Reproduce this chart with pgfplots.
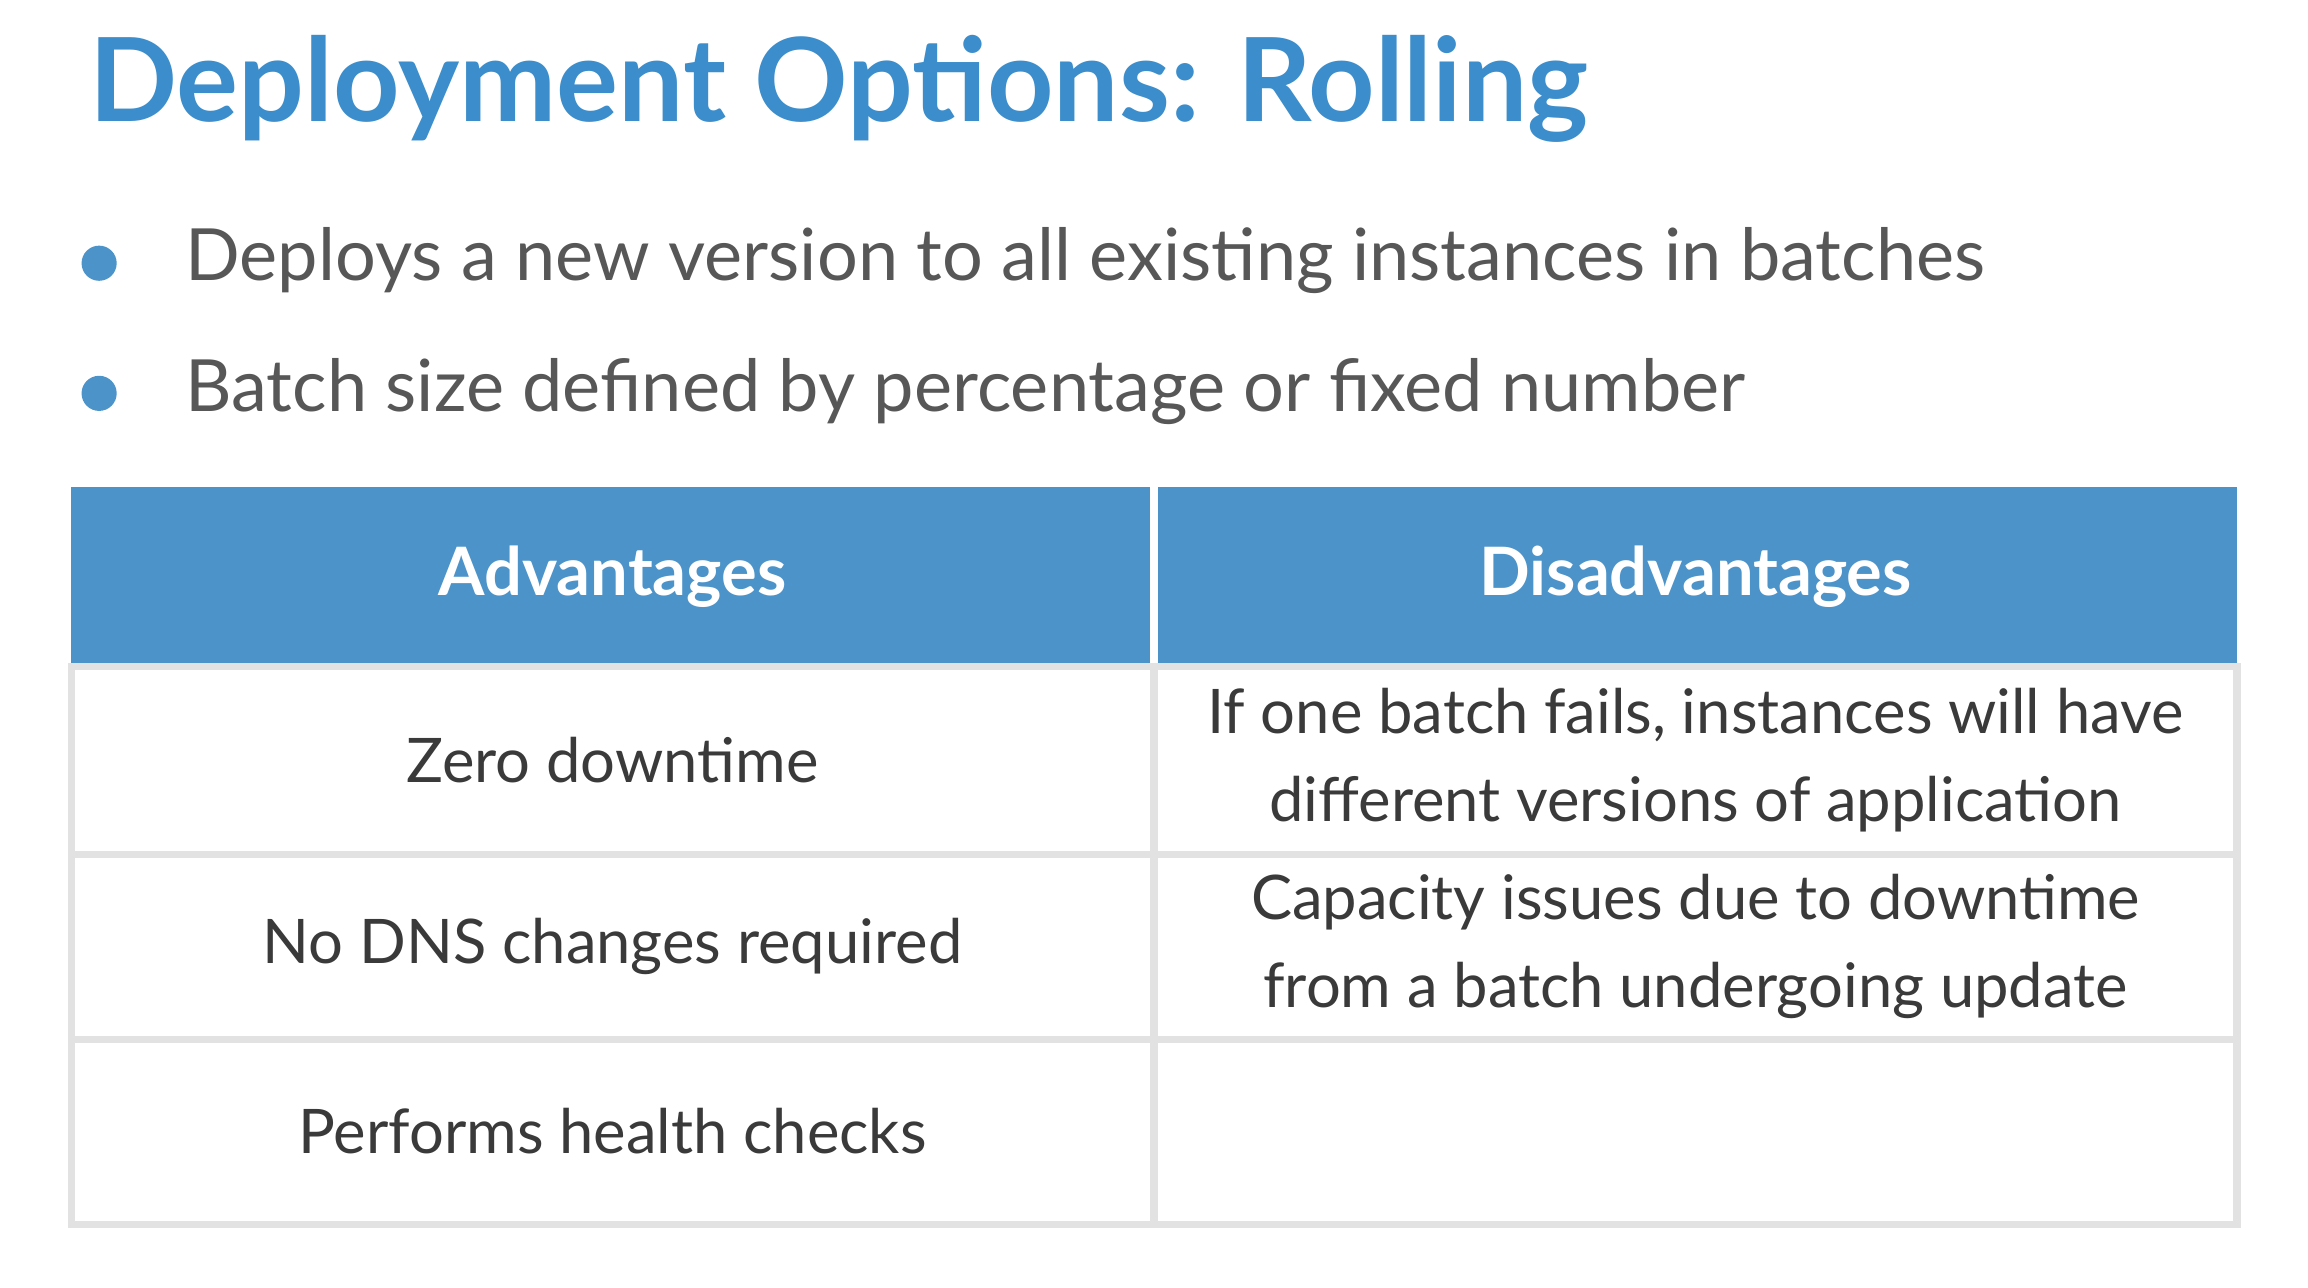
\documentclass[border=0pt]{standalone}
\usepackage{pgfplots}
\pgfplotsset{compat=1.18}
\usepackage{fontspec}
\setmainfont{Lato}
\definecolor{ttl}{HTML}{3B8DCB}
\definecolor{hdr}{HTML}{4B93C9}
\definecolor{txt}{HTML}{3A3A3A}
\definecolor{grd}{HTML}{E2E2E2}
\begin{document}
\begin{tikzpicture}
\begin{axis}[hide axis, scale only axis, width=23.08cm, height=12.88cm,
  xmin=0, xmax=1560, ymin=0, ymax=871, y dir=reverse, clip=false]
\fill[white] (axis cs:0,0) rectangle (axis cs:1560,871);
\node[anchor=base west, text=ttl, font=\fontsize{33}{38}\selectfont\bfseries] at (axis cs:52,82) {Deployment Options: Rolling};
\fill[hdr] (axis cs:67,178) circle[radius=5pt];
\fill[hdr] (axis cs:67,266) circle[radius=5pt];
\node[anchor=base west, text=txt!85, font=\fontsize{20.5}{24}\selectfont] at (axis cs:117,190) {Deploys a new version to all existing instances in batches};
\node[anchor=base west, text=txt!85, font=\fontsize{20.5}{24}\selectfont] at (axis cs:117,278) {Batch size defined by percentage or fixed number};
\fill[hdr] (axis cs:48,329) rectangle (axis cs:1512,451);
\draw[white, line width=2pt] (axis cs:780,329) -- (axis cs:780,451);
\draw[grd, line width=2pt] (axis cs:48,451) rectangle (axis cs:1512,828);
\draw[grd, line width=2pt] (axis cs:48,578) -- (axis cs:1512,578);
\draw[grd, line width=2pt] (axis cs:48,703) -- (axis cs:1512,703);
\draw[grd, line width=2pt] (axis cs:780,451) -- (axis cs:780,828);
\node[white, font=\fontsize{19}{23}\selectfont\bfseries] at (axis cs:414,390) {Advantages};
\node[white, font=\fontsize{19}{23}\selectfont\bfseries] at (axis cs:1146,390) {Disadvantages};
\tikzset{cell/.style={text=txt, font=\fontsize{17.5}{25}\selectfont, align=center}}
\node[cell] at (axis cs:414,514) {Zero downtime};
\node[cell] at (axis cs:414,640) {No DNS changes required};
\node[cell] at (axis cs:414,765) {Performs health checks};
\node[cell] at (axis cs:1146,514) {If one batch fails, instances will have\\different versions of application};
\node[cell] at (axis cs:1146,640) {Capacity issues due to downtime\\from a batch undergoing update};
\end{axis}
\end{tikzpicture}
\end{document}
